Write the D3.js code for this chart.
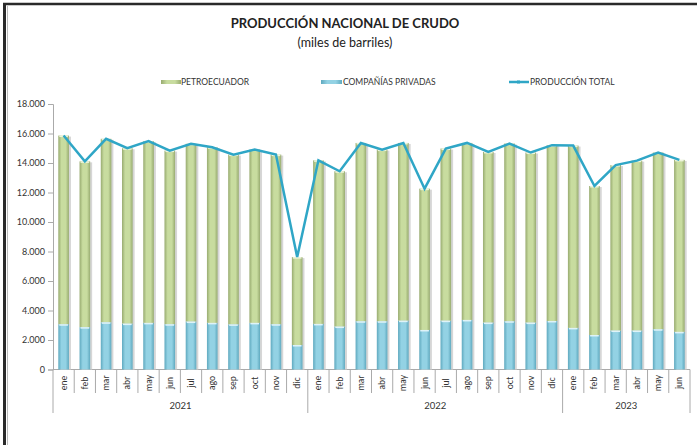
<!DOCTYPE html>
<html>
<head>
<meta charset="utf-8">
<script src="https://cdn.jsdelivr.net/npm/d3@7"></script>
<style>
  body { margin: 0; background: #fff; }
  svg { display: block; font-family: Lato, "Liberation Sans", sans-serif; }
</style>
</head>
<body>
<div id="chart"></div>
<script>
// monthly crude production, thousands of barrels
var months = ["ene","feb","mar","abr","may","jun","jul","ago","sep","oct","nov","dic",
              "ene","feb","mar","abr","may","jun","jul","ago","sep","oct","nov","dic",
              "ene","feb","mar","abr","may","jun"];
var years = ["2021","2022","2023"];
var yearOf = [0,0,0,0,0,0,0,0,0,0,0,0, 1,1,1,1,1,1,1,1,1,1,1,1, 2,2,2,2,2,2];

var privadas = [3070,2870,3200,3110,3160,3070,3250,3160,3060,3160,3070,1660,
                3090,2910,3270,3270,3310,2680,3310,3360,3180,3270,3180,3290,
                2820,2340,2640,2640,2730,2550];
var petroecuador = [12790,11240,12440,11890,12320,11770,12050,11910,11510,11750,11500,5960,
                    11090,10530,12090,11640,12050,9580,11670,12000,11570,12050,11530,11920,
                    12360,10100,11220,11520,11980,11660];
var total = [15860,14110,15640,15000,15480,14840,15300,15070,14570,14910,14570,7620,
             14180,13440,15360,14910,15360,12260,14980,15360,14750,15320,14710,15210,
             15180,12440,13860,14160,14710,14210];
var yTicks = [0,2000,4000,6000,8000,10000,12000,14000,16000,18000];

var W = 697, H = 445;
var plotLeft = 53, plotRight = 690, plotTop = 104, plotBottom = 369.5;

var svg = d3.select("#chart").append("svg")
    .attr("width", W).attr("height", H);

// frame
svg.append("line").attr("x1", 3).attr("x2", W).attr("y1", 4).attr("y2", 4)
   .attr("stroke", "#2a2a2a").attr("stroke-width", 2.5);
svg.append("line").attr("x1", 4.5).attr("x2", 4.5).attr("y1", 3).attr("y2", H)
   .attr("stroke", "#2a2a2a").attr("stroke-width", 3);
svg.append("line").attr("x1", 7.5).attr("x2", 7.5).attr("y1", 6).attr("y2", H)
   .attr("stroke", "#bbb").attr("stroke-width", 1);

// gradients
var defs = svg.append("defs");
function grad(id, edge, mid) {
    var g = defs.append("linearGradient").attr("id", id)
        .attr("x1", "0%").attr("x2", "100%").attr("y1", "0%").attr("y2", "0%");
    g.append("stop").attr("offset", "0%").attr("stop-color", edge);
    g.append("stop").attr("offset", "30%").attr("stop-color", mid);
    g.append("stop").attr("offset", "70%").attr("stop-color", mid);
    g.append("stop").attr("offset", "100%").attr("stop-color", edge);
}
grad("gGreen", "#98ab70", "#c8dc9f");
grad("gBlue", "#5fa9bf", "#93d2e4");

var x = d3.scaleBand().domain(d3.range(months.length)).range([plotLeft, plotRight]).paddingInner(0.5).paddingOuter(0.25);
var y = d3.scaleLinear().domain([0, 18000]).range([plotBottom, plotTop]);
var x0 = d3.scaleLinear().domain([0, months.length]).range([plotLeft, plotRight]);

// titles
svg.append("text").attr("x", 345).attr("y", 28).attr("text-anchor", "middle")
   .style("font-size", "13px").style("font-weight", "bold").attr("fill", "#222")
   .text("PRODUCCIÓN NACIONAL DE CRUDO");
svg.append("text").attr("x", 345).attr("y", 47).attr("text-anchor", "middle")
   .style("font-size", "12.5px").attr("fill", "#222")
   .text("(miles de barriles)");

// legend
var lg = svg.append("g").style("font-size", "8.5px").attr("fill", "#333");
lg.append("rect").attr("x", 161).attr("y", 80).attr("width", 20).attr("height", 4).attr("fill", "url(#gGreen)");
lg.append("text").attr("x", 181).attr("y", 84.5).text("PETROECUADOR");
lg.append("rect").attr("x", 321).attr("y", 80).attr("width", 21).attr("height", 4).attr("fill", "url(#gBlue)");
lg.append("text").attr("x", 343).attr("y", 84.5).text("COMPAÑÍAS PRIVADAS");
lg.append("line").attr("x1", 509).attr("x2", 529).attr("y1", 82).attr("y2", 82)
  .attr("stroke", "#2fa6c6").attr("stroke-width", 2.5);
lg.append("rect").attr("x", 517).attr("y", 80.5).attr("width", 3).attr("height", 3).attr("fill", "#2fa6c6");
lg.append("text").attr("x", 530).attr("y", 84.5).text("PRODUCCIÓN TOTAL");

// y axis
var yAxis = svg.append("g").attr("transform", "translate(" + plotLeft + ",0)")
    .call(d3.axisLeft(y).tickValues(yTicks).tickSize(5).tickPadding(3)
          .tickFormat(function(d){ return d3.format(",")(d).replace(/,/g, "."); }));
yAxis.select(".domain").attr("stroke", "#aaa");
yAxis.selectAll(".tick line").attr("stroke", "#aaa");
yAxis.selectAll("text").style("font-size", "9px").attr("fill", "#333").style("font-family", "Lato, sans-serif");

// x axis baseline and separators
svg.append("line").attr("x1", plotLeft).attr("x2", plotRight).attr("y1", plotBottom).attr("y2", plotBottom)
   .attr("stroke", "#aaa");
svg.selectAll("line.sep").data(d3.range(months.length + 1)).enter().append("line")
   .attr("class", "sep")
   .attr("x1", function(i){ return x0(i); }).attr("x2", function(i){ return x0(i); })
   .attr("y1", plotBottom)
   .attr("y2", function(i){ return (i == 0 || i == months.length || months[i] == "ene") ? 413 : 393; })
   .attr("stroke", "#aaa");

svg.selectAll("text.mes").data(months).enter().append("text")
   .attr("class", "mes")
   .attr("transform", function(d, i){ return "translate(" + (x(i) + x.bandwidth()/2 + 3) + ",383) rotate(-90)"; })
   .attr("text-anchor", "middle")
   .style("font-size", "9px").attr("fill", "#333")
   .text(function(d){ return d; });

svg.selectAll("text.anio").data(years).enter().append("text")
   .attr("class", "anio")
   .attr("x", function(d, k){
       var idx = d3.range(months.length).filter(function(i){ return yearOf[i] == k; });
       return (x0(idx[0]) + x0(idx[idx.length - 1] + 1)) / 2;
   })
   .attr("y", 409).attr("text-anchor", "middle")
   .style("font-size", "9.5px").attr("fill", "#333")
   .text(function(d){ return d; });

// bars
var bars = svg.append("g");
bars.selectAll("rect.shadow").data(total).enter().append("rect")
   .attr("x", function(d, i){ return x(i) + 2; })
   .attr("y", function(d){ return y(d) + 1; })
   .attr("width", x.bandwidth())
   .attr("height", function(d){ return plotBottom - y(d) - 1; })
   .attr("fill", "#d6d6d6");
bars.selectAll("rect.priv").data(privadas).enter().append("rect")
   .attr("x", function(d, i){ return x(i); })
   .attr("y", function(d){ return y(d); })
   .attr("width", x.bandwidth())
   .attr("height", function(d){ return plotBottom - y(d); })
   .attr("fill", "url(#gBlue)");
bars.selectAll("rect.petro").data(petroecuador).enter().append("rect")
   .attr("x", function(d, i){ return x(i); })
   .attr("y", function(d, i){ return y(privadas[i] + d); })
   .attr("width", x.bandwidth())
   .attr("height", function(d, i){ return y(privadas[i]) - y(privadas[i] + d); })
   .attr("fill", "url(#gGreen)");
// light caps on top of each segment
bars.selectAll("rect.capB").data(privadas).enter().append("rect")
   .attr("x", function(d, i){ return x(i) + 1; })
   .attr("y", function(d){ return y(d); })
   .attr("width", x.bandwidth() - 2).attr("height", 1.5)
   .attr("fill", "#dff3f8");
bars.selectAll("rect.capG").data(petroecuador).enter().append("rect")
   .attr("x", function(d, i){ return x(i) + 1; })
   .attr("y", function(d, i){ return y(privadas[i] + d); })
   .attr("width", x.bandwidth() - 2).attr("height", 1.5)
   .attr("fill", "#eef5dc");

// total line
var line = d3.line()
    .x(function(d, i){ return x(i) + x.bandwidth()/2; })
    .y(function(d){ return y(d); });
svg.append("path").datum(total)
   .attr("d", line).attr("fill", "none")
   .attr("stroke", "#2fa6c6").attr("stroke-width", 2.5)
   .attr("stroke-linejoin", "miter");
</script>
</body>
</html>
